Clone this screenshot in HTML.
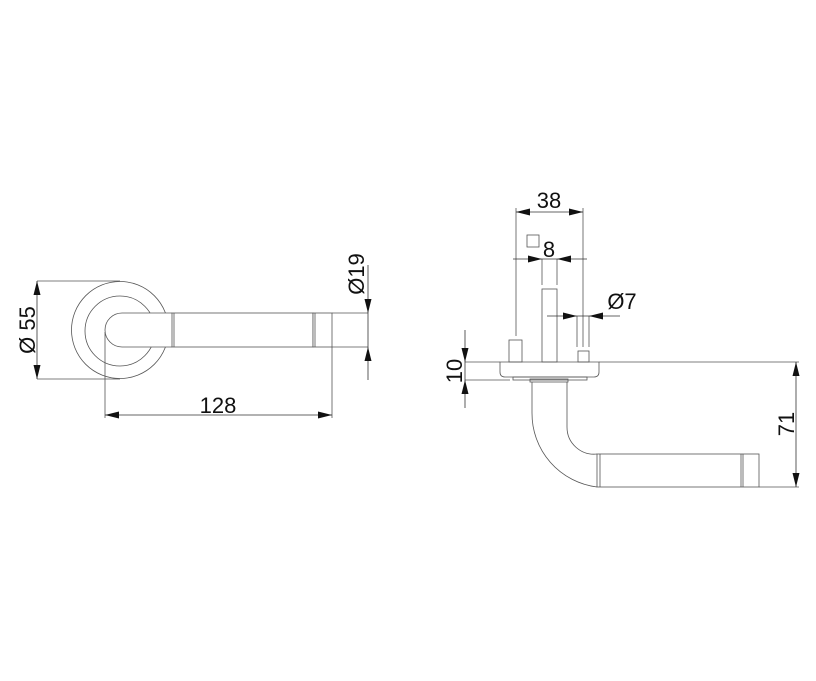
<!DOCTYPE html>
<html><head><meta charset="utf-8"><style>
html,body{margin:0;padding:0;background:#fff;}
svg{display:block;}
text{font-family:"Liberation Sans",sans-serif;fill:#111;}
</style></head><body>
<svg width="816" height="681" viewBox="0 0 816 681" xmlns="http://www.w3.org/2000/svg">
<g fill="none" stroke="#555" stroke-width="0.8">
<circle cx="120" cy="330" r="48.5"/>
<circle cx="120" cy="331" r="35"/>
<path d="M172,313 H122 A17,17 0 0 0 122,347 H172" fill="#fff"/>
<rect x="172" y="313" width="141" height="34" fill="#fff"/>
<line x1="174" y1="313" x2="174" y2="347"/>
<rect x="313" y="313" width="19" height="34" fill="#fff"/>
<line x1="315" y1="313" x2="315" y2="347"/>
<line x1="332" y1="313" x2="368" y2="313"/>
<line x1="332" y1="347" x2="368" y2="347"/>
<line x1="37" y1="281" x2="120" y2="281"/>
<line x1="37" y1="379" x2="120" y2="379"/>
<line x1="105" y1="332" x2="105" y2="418"/>
<line x1="332" y1="347" x2="332" y2="418"/>
<rect x="509" y="340" width="13" height="22"/>
<rect x="542" y="289" width="15" height="73"/>
<rect x="578" y="351" width="11" height="11"/>
<path d="M500,362 H599 V372 Q599,377 594,377 H505 Q500,377 500,372 Z"/>
<rect x="513" y="377" width="74" height="3"/>
<rect x="530" y="379" width="38" height="3"/>
<path d="M532,382 V413 A74,74 0 0 0 597,487"/>
<path d="M567,382 V427 A27,27 0 0 0 597,454"/>
<rect x="597" y="454" width="162" height="33" fill="#fff"/>
<line x1="600" y1="454" x2="600" y2="487"/>
<line x1="741" y1="454" x2="741" y2="487"/>
<line x1="743" y1="454" x2="743" y2="487"/>
<line x1="516" y1="208" x2="516" y2="336"/>
<line x1="583" y1="208" x2="583" y2="347"/>
<line x1="542" y1="259" x2="542" y2="285"/>
<line x1="557" y1="259" x2="557" y2="285"/>
<line x1="577" y1="316" x2="577" y2="347"/>
<line x1="589" y1="316" x2="589" y2="347"/>
<line x1="599" y1="362" x2="799" y2="362"/>
<line x1="759" y1="487" x2="799" y2="487"/>
<line x1="465" y1="362" x2="500" y2="362"/>
<line x1="465" y1="380" x2="510" y2="380"/>
<rect x="527" y="235" width="12" height="12"/>
</g>
<g stroke="#333" stroke-width="0.8" fill="none">
<line x1="37" y1="281" x2="37" y2="379"/>
<line x1="105" y1="415" x2="332" y2="415"/>
<line x1="368" y1="265" x2="368" y2="380"/>
<line x1="516" y1="212" x2="583" y2="212"/>
<line x1="513" y1="259" x2="587" y2="259"/>
<line x1="547" y1="316" x2="620" y2="316"/>
<line x1="465" y1="330" x2="465" y2="408"/>
<line x1="796" y1="362" x2="796" y2="487"/>
</g>
<g fill="#111">
<polygon points="37,281 33.5,295 40.5,295"/>
<polygon points="37,379 33.5,365 40.5,365"/>
<polygon points="105,415 119,411.5 119,418.5"/>
<polygon points="332,415 318,411.5 318,418.5"/>
<polygon points="368,313 364.5,299 371.5,299"/>
<polygon points="368,347 364.5,361 371.5,361"/>
<polygon points="516,212 530,208.5 530,215.5"/>
<polygon points="583,212 569,208.5 569,215.5"/>
<polygon points="542,259 528,255.5 528,262.5"/>
<polygon points="557,259 571,255.5 571,262.5"/>
<polygon points="577,316 563,312.5 563,319.5"/>
<polygon points="589,316 603,312.5 603,319.5"/>
<polygon points="465,362 461.5,348 468.5,348"/>
<polygon points="465,380 461.5,394 468.5,394"/>
<polygon points="796,362 792.5,376 799.5,376"/>
<polygon points="796,487 792.5,473 799.5,473"/>
</g>
<g font-size="22">
<text x="218" y="413" text-anchor="middle">128</text>
<text transform="translate(35,330) rotate(-90)" text-anchor="middle">Ø 55</text>
<text transform="translate(364,274) rotate(-90)" text-anchor="middle">Ø19</text>
<text x="549" y="208" text-anchor="middle">38</text>
<text x="549" y="257" text-anchor="middle">8</text>
<text x="622" y="309" text-anchor="middle">Ø7</text>
<text transform="translate(462,371) rotate(-90)" text-anchor="middle">10</text>
<text transform="translate(794,424) rotate(-90)" text-anchor="middle">71</text>
</g>
</svg>
</body></html>
